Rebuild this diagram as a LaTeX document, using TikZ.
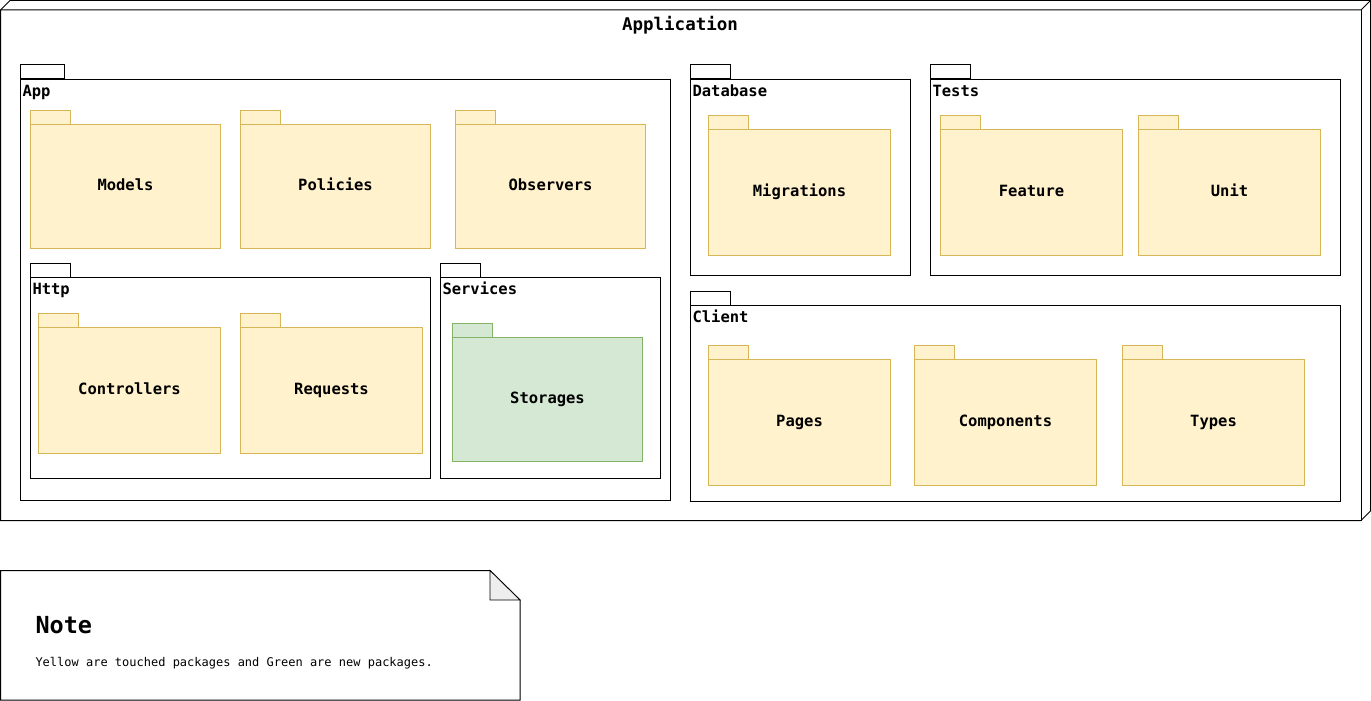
\documentclass[tikz,border=0pt]{standalone}
\usepackage{fontspec}
\setmonofont{DejaVu Sans Mono}
\definecolor{ylwfill}{HTML}{FFF2CC}
\definecolor{ylwline}{HTML}{D6B656}
\definecolor{grnfill}{HTML}{D5E8D4}
\definecolor{grnline}{HTML}{82B366}
\definecolor{foldfill}{HTML}{EEEEEE}
\newcommand\lblfont{\ttfamily\bfseries\fontsize{15.5}{18}\selectfont}
\newcommand\pkgnode[7]{%
  \node[pkgbody,#7,minimum width=#4pt,minimum height=#5pt,text height=10pt,text depth=3pt] (#1) at (#2,#3) {#6};
  \draw[#7] (#1.north west) rectangle ++(40,-14);
}
\newcommand\ctrnode[6]{%
  \node[pkgbody,ctr,minimum width=#4pt,minimum height=#5pt] (#1) at (#2,#3) {};
  \draw[ctr] (#1.north west) rectangle ++(#6,-14);
  \node[ctrlabel] (#1-lbl) at ([xshift=2pt,yshift=-17pt]#1.north west) {#1};
}
\begin{document}
\begin{tikzpicture}[x=1pt,y=-1pt,line width=1pt,
  pkgbody/.style={inner sep=0pt,anchor=north west,font=\lblfont},
  ylw/.style={draw=ylwline,fill=ylwfill},
  grn/.style={draw=grnline,fill=grnfill},
  ctr/.style={draw=black,fill=white},
  ctrlabel/.style={inner sep=0pt,anchor=base west,font=\lblfont},
]
\useasboundingbox (0,0) rectangle (1371,701);
% Application 3D node
\draw[fill=white] (0.5,10) -- (10,0.5) -- (1370.5,0.5) -- (1370.5,511) -- (1361,520.5) -- (0.5,520.5) -- cycle;
\draw (0.5,10) -- (1361,10) -- (1370.5,0.5);
\draw (1361,10) -- (1361,520.5);
\node[inner sep=0pt,anchor=base,font=\ttfamily\bfseries\fontsize{17.5}{20}\selectfont] (apptitle) at (680,30.5) {Application};

% App container
\ctrnode{App}{20}{79}{650}{421}{44}
\pkgnode{models}{30}{124}{190}{124}{Models}{ylw}
\pkgnode{policies}{240}{124}{190}{124}{Policies}{ylw}
\pkgnode{observers}{455}{124}{190}{124}{Observers}{ylw}
\ctrnode{Http}{30}{277}{400}{201}{40}
\pkgnode{controllers}{38}{327}{182}{126}{Controllers}{ylw}
\pkgnode{requests}{240}{327}{182}{126}{Requests}{ylw}
\ctrnode{Services}{440}{277}{220}{201}{40}
\pkgnode{storages}{452}{337}{190}{124}{Storages}{grn}

% Database
\ctrnode{Database}{690}{79}{220}{196}{40}
\pkgnode{migrations}{708}{129}{182}{126}{Migrations}{ylw}

% Tests
\ctrnode{Tests}{930}{79}{410}{196}{40}
\pkgnode{feature}{940}{129}{182}{126}{Feature}{ylw}
\pkgnode{unit}{1138}{129}{182}{126}{Unit}{ylw}

% Client
\ctrnode{Client}{690}{305}{650}{196}{40}
\pkgnode{pages}{708}{359}{182}{126}{Pages}{ylw}
\pkgnode{components}{914}{359}{182}{126}{Components}{ylw}
\pkgnode{types}{1122}{359}{182}{126}{Types}{ylw}

% Note
\draw[fill=white] (0.5,570.5) -- (490,570.5) -- (520,600) -- (520,700) -- (0.5,700) -- cycle;
\draw[fill=foldfill,line width=0.8pt] (490,570.5) -- (490,600) -- (520,600) -- cycle;
\node[inner sep=0pt,anchor=base west,font=\ttfamily\bfseries\fontsize{23.5}{26}\selectfont] (notehead) at (35,633) {Note};
\node[inner sep=0pt,anchor=base west,font=\ttfamily\fontsize{12}{14}\selectfont] (notetext) at (35,666) {Yellow are touched packages and Green are new packages.};
\end{tikzpicture}
\end{document}
